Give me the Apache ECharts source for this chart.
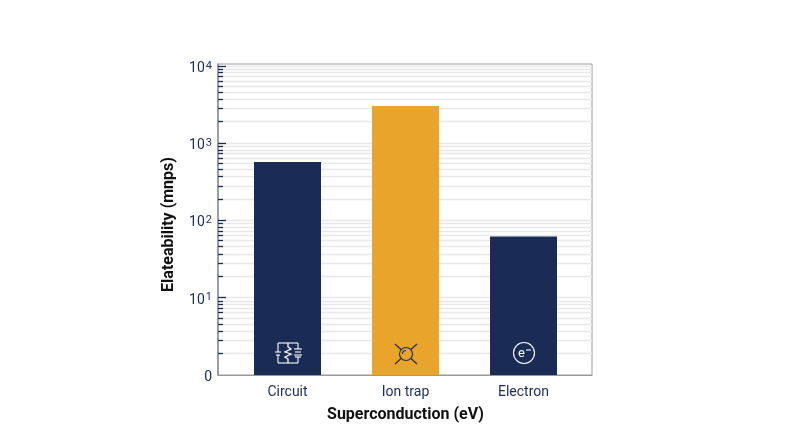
<!DOCTYPE html>
<html><head><meta charset="utf-8">
<style>html,body{margin:0;padding:0;background:#fff}#c{width:800px;height:447px}</style>
<script src="https://cdn.jsdelivr.net/npm/echarts@6/dist/echarts.min.js"></script>
</head><body><div id="c"></div>
<script>
const categories = ['Circuit', 'Ion trap', 'Electron'];
const values = [570, 3020, 62];
const barColors = ['#1a2c56', '#e9a42c', '#1a2c56'];
const iconKinds = ['circuit', 'ion', 'electron'];
const majorTicks = [10, 100, 1000, 10000];
const xTitle = 'Superconduction (eV)';
const yTitle = 'Elateability (mnps)';

const NAVY = '#1a2c56';
const gridTop = 64, gridBottom = 447 - 375, logMin = 1, logMax = 10550;

function labelFmt(v) {
  const e = Math.log10(v);
  if (Math.abs(e) < 1e-6) return '{b|0}';
  if (Math.abs(e - Math.round(e)) > 1e-6 || e > 4.01) return '';
  return '{b|10}{s|' + Math.round(e) + '}';
}

function icon(params, api) {
  const i = params.dataIndex;
  const p = api.coord([api.value(0), api.value(1)]);
  const cx = Math.round(p[0]), cy = Math.round(p[1]);
  const kind = iconKinds[i];
  const color = kind === 'ion' ? '#1a2c56' : '#ffffff';
  const st = { stroke: color, lineWidth: 1.1, fill: null };
  const L = (a, b, c, d) => ({ type: 'line', shape: { x1: cx + a, y1: cy + b, x2: cx + c, y2: cy + d }, style: st });
  const kids = [];
  if (kind === 'circuit') {
    kids.push(L(-10,-10,10,-10), L(-10,10,10,10));
    kids.push(L(-10,-10,-10,-1), L(-10,2,-10,10));
    kids.push(L(-13,-1,-7,-1), L(-12,2,-8,2));
    kids.push(L(10,-10,10,-4), L(10,4,10,10));
    kids.push(L(6,-4,14,-4), L(7,-1,13,-1), L(6,2,14,2), L(7,4,13,4));
    kids.push({ type: 'polyline', shape: { points: [[cx,cy-10],[cx,cy-6],[cx+3,cy-4],[cx-3,cy-1],[cx+3,cy+1],[cx-3,cy+4],[cx,cy+6],[cx,cy+10]] }, style: { stroke: color, lineWidth: 1.3, fill: null } });
  } else if (kind === 'ion') {
    kids.push({ type: 'circle', shape: { cx: cx, cy: cy + 1, r: 6.5 }, style: st });
    kids.push({ type: 'arc', shape: { cx: cx, cy: cy + 1, r: 3.5, startAngle: Math.PI, endAngle: 1.5 * Math.PI }, style: st });
    kids.push(L(-11,-9,-5,-3.5), L(11,-9,5,-3.5), L(-11,11,-5,5.5), L(11,11,5,5.5));
  } else {
    kids.push({ type: 'circle', shape: { cx: cx, cy: cy, r: 10.5 }, style: st });
    kids.push({ type: 'text', style: { text: 'e', x: cx - 2.5, y: cy + 1, fill: color, font: '13px Roboto', align: 'center', verticalAlign: 'middle' } });
    kids.push(L(2,-3,7,-3));
  }
  return { type: 'group', children: kids };
}

const chart = echarts.init(document.getElementById('c'), null, { renderer: 'canvas' });
chart.setOption({
  animation: false,
  backgroundColor: '#fff',
  grid: [
    { left: 218, right: 800 - 592, top: gridTop, bottom: gridBottom, show: true, borderColor: '#999', borderWidth: 1, backgroundColor: 'transparent' },
    { left: 228.5, width: 354, top: gridTop, bottom: gridBottom }
  ],
  xAxis: [
    { gridIndex: 0, type: 'value', min: 0, max: 1, axisLine: { show: true, lineStyle: { color: '#999' } }, axisTick: { show: false }, axisLabel: { show: false }, splitLine: { show: false } },
    { gridIndex: 1, type: 'category', data: categories, axisLine: { show: false }, axisTick: { show: false },
      axisLabel: { color: NAVY, fontFamily: 'Roboto', fontSize: 14, margin: 10 },
      name: xTitle, nameLocation: 'middle', nameGap: 32,
      nameTextStyle: { color: '#111', fontFamily: 'Roboto', fontWeight: 'bold', fontSize: 16 } }
  ],
  yAxis: [
    { gridIndex: 0, type: 'log', logBase: 10, min: logMin, max: logMax,
      axisLine: { show: true, lineStyle: { color: '#8a8f9c', width: 1.5 } },
      axisTick: { show: true, inside: true, length: 8, customValues: majorTicks, lineStyle: { color: NAVY, width: 1.3 } },
      minorTick: { show: true, splitNumber: 10, length: 5, lineStyle: { color: NAVY, width: 1.3 } },
      splitLine: { show: true, lineStyle: { color: '#e8e8e8', width: 1.3 } },
      minorSplitLine: { show: true, lineStyle: { color: '#e8e8e8', width: 1.3 } },
      axisLabel: { formatter: labelFmt, margin: 6, padding: [4,0,0,0], rich: {
        b: { color: NAVY, fontFamily: 'Roboto', fontSize: 14, verticalAlign: 'bottom' },
        s: { color: NAVY, fontFamily: 'Roboto', fontSize: 11, verticalAlign: 'top', padding: [0,0,4,1] } } },
      name: yTitle, nameLocation: 'middle', nameGap: 41,
      nameTextStyle: { color: '#111', fontFamily: 'Roboto', fontWeight: 'bold', fontSize: 16, padding: [0,10,0,0] } },
    { gridIndex: 1, type: 'log', logBase: 10, min: logMin, max: logMax, show: false }
  ],
  series: [
    { type: 'bar', xAxisIndex: 1, yAxisIndex: 1, barWidth: 67, z: 3,
      data: values.map((v, i) => ({ value: v, itemStyle: { color: barColors[i] } })) },
    { type: 'custom', xAxisIndex: 1, yAxisIndex: 1, z: 5, silent: true, renderItem: icon,
      data: categories.map((c, i) => [i, 1.93]) }
  ]
});
</script></body></html>
